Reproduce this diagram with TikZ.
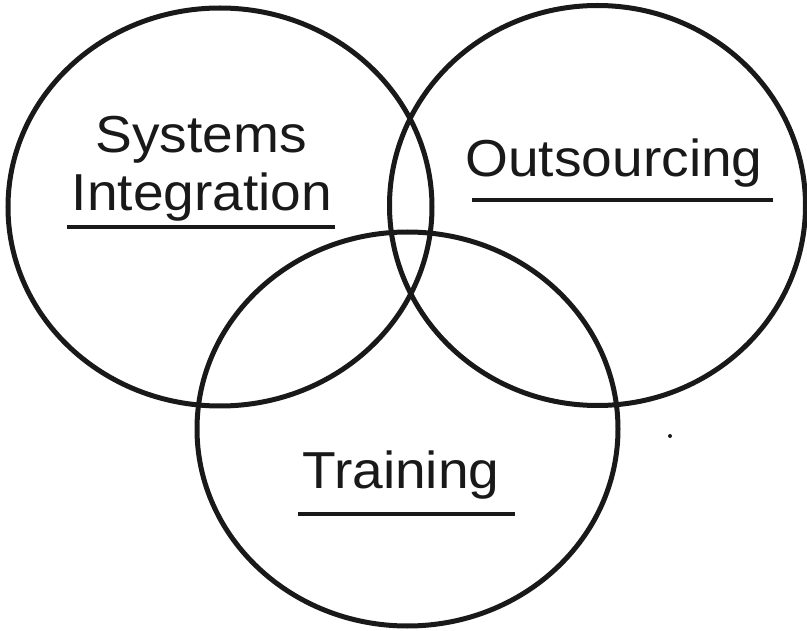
\documentclass[tikz,border=0pt]{standalone}
\usepackage{fontspec}
\setmainfont{Liberation Sans}
\begin{document}
\begin{tikzpicture}[x=1pt,y=-1pt,
  circ/.style={line width=5pt, draw=black!90},
  lbl/.style={font=\fontsize{52}{58}\selectfont, inner sep=0pt, anchor=base, xscale=1.06, text=black!90},
  uline/.style={line width=3.5pt, draw=black!90}]
\useasboundingbox (0,0) rectangle (807,631);
\draw[circ] (220,207) ellipse [x radius=212, y radius=199];
\draw[circ] (597.5,205.5) ellipse [x radius=208, y radius=200];
\draw[circ] (407.5,429) ellipse [x radius=210.5, y radius=197];
\node[lbl] (sys) at (201,153) {Systems};
\node[lbl] (int) at (202,211) {Integration};
\node[lbl] (out) at (614,177) {Outsourcing};
\node[lbl] (tra) at (401,488) {Training};
\coordinate (u1a) at (67,227); \coordinate (u1b) at (335,227);
\coordinate (u2a) at (472,200); \coordinate (u2b) at (773,200);
\coordinate (u3a) at (298,514); \coordinate (u3b) at (515,514);
\draw[uline] (u1a) -- (u1b);
\draw[uline] (u2a) -- (u2b);
\draw[uline] (u3a) -- (u3b);
\fill[black!90] (670,436) circle [radius=2];
\end{tikzpicture}
\end{document}
